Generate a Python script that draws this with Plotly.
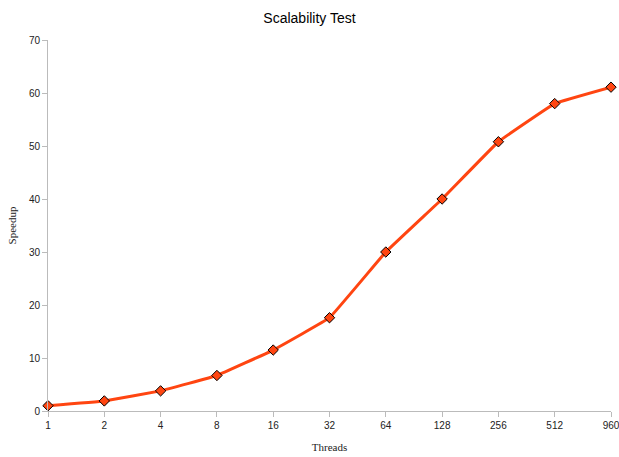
import plotly.graph_objects as go

threads = ["1", "2", "4", "8", "16", "32", "64", "128", "256", "512", "960"]
speedup = [1.0, 1.9, 3.8, 6.7, 11.5, 17.6, 30.0, 40.0, 50.8, 58.0, 61.1]
y_ticks = [0, 10, 20, 30, 40, 50, 60, 70]

fig = go.Figure()
fig.add_trace(go.Scatter(
    x=threads, y=speedup, mode="lines+markers",
    line=dict(color="#FF4511", width=3, shape="spline", smoothing=0.2),
    marker=dict(symbol="diamond", size=8, color="#FF4511",
                line=dict(color="#000000", width=1)),
    showlegend=False, cliponaxis=False,
))

fig.update_layout(
    width=619, height=457,
    margin=dict(l=48, r=8, t=40, b=46, autoexpand=False),
    paper_bgcolor="white", plot_bgcolor="white",
    title=dict(text="Scalability Test", x=0.5, xref="container", xanchor="center",
               y=0.96, yref="container", yanchor="middle",
               font=dict(family="Liberation Sans, Arial", size=14, color="#000")),
    xaxis=dict(type="category", range=[0, 10], showgrid=False, zeroline=False,
               automargin=False,
               showline=True, linecolor="#bbbbbb", linewidth=1,
               ticks="outside", ticklen=5, tickcolor="#bbbbbb",
               tickfont=dict(family="Liberation Sans, Arial", size=10, color="#222"),
               title=dict(text="Threads", standoff=13,
                          font=dict(family="Liberation Serif, Times New Roman", size=11, color="#222"))),
    yaxis=dict(range=[0, 70], tickvals=y_ticks, showgrid=False, zeroline=False,
               automargin=False,
               showline=True, linecolor="#bbbbbb", linewidth=1,
               ticks="outside", ticklen=5, tickcolor="#bbbbbb",
               tickfont=dict(family="Liberation Sans, Arial", size=10, color="#222"),
               title=dict(text="Speedup", standoff=10,
                          font=dict(family="Liberation Serif, Times New Roman", size=11, color="#222"))),
)

fig.write_html("out.html")
